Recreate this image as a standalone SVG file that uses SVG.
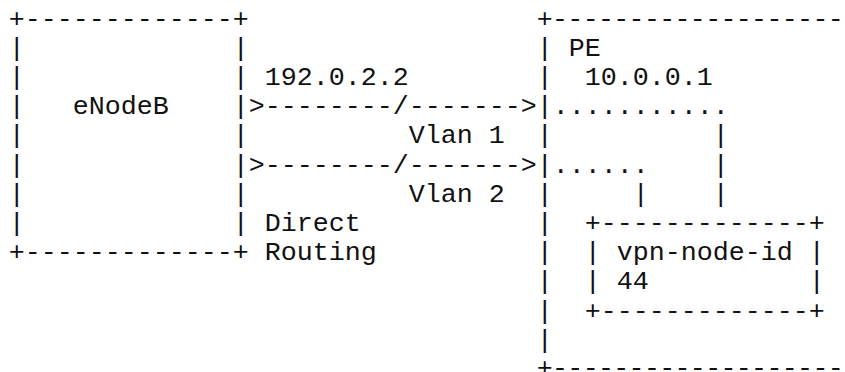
<svg xmlns="http://www.w3.org/2000/svg" width="845" height="372" viewBox="0 0 845 372" xml:space="preserve">
<style>
text { font-family: "Liberation Mono", "DejaVu Sans Mono", monospace; font-size: 26.67px; fill: #111; white-space: pre; }
</style>
<rect width="845" height="372" fill="#fff"/>
<g id="enodeb">
<text x="8.7" y="26.6">+-------------+</text>
<text x="8.7" y="55.8">|             |</text>
<text x="8.7" y="85.0">|             |</text>
<text x="8.7" y="114.2">|   eNodeB    |</text>
<text x="8.7" y="143.4">|             |</text>
<text x="8.7" y="172.6">|             |</text>
<text x="8.7" y="201.8">|             |</text>
<text x="8.7" y="231.0">|             |</text>
<text x="8.7" y="260.2">+-------------+</text>
</g>
<g id="pe">
<text x="536.7" y="26.6" textLength="307" lengthAdjust="spacing">+-------------------</text>
<text x="536.7" y="55.8">| PE</text>
<text x="536.7" y="85.0">|  10.0.0.1</text>
<text x="536.7" y="114.2">|</text>
<text x="536.7" y="143.4">|</text>
<text x="536.7" y="172.6">|</text>
<text x="536.7" y="201.8">|</text>
<text x="536.7" y="231.0">|</text>
<text x="536.7" y="260.2">|</text>
<text x="536.7" y="289.4">|</text>
<text x="536.7" y="318.6">|</text>
<text x="536.7" y="347.8">|</text>
<text x="536.7" y="375.5" textLength="307" lengthAdjust="spacing">+-------------------</text>
</g>
<g id="vpn-node">
<text x="584.7" y="231.0">+-------------+</text>
<text x="584.7" y="260.2">| vpn-node-id |</text>
<text x="584.7" y="289.4">| 44          |</text>
<text x="584.7" y="318.6">+-------------+</text>
</g>
<g id="connectors">
<text x="264.7" y="85.0">192.0.2.2</text>
<text x="248.7" y="114.2">&gt;--------/-------&gt;</text>
<text x="552.7" y="114.2">...........</text>
<text x="408.7" y="143.4">Vlan 1</text>
<text x="712.7" y="143.4">|</text>
<text x="248.7" y="172.6">&gt;--------/-------&gt;</text>
<text x="552.7" y="172.6">......</text>
<text x="712.7" y="172.6">|</text>
<text x="408.7" y="201.8">Vlan 2</text>
<text x="632.7" y="201.8">|</text>
<text x="712.7" y="201.8">|</text>
<text x="264.7" y="231.0">Direct</text>
<text x="264.7" y="260.2">Routing</text>
</g>
</svg>
